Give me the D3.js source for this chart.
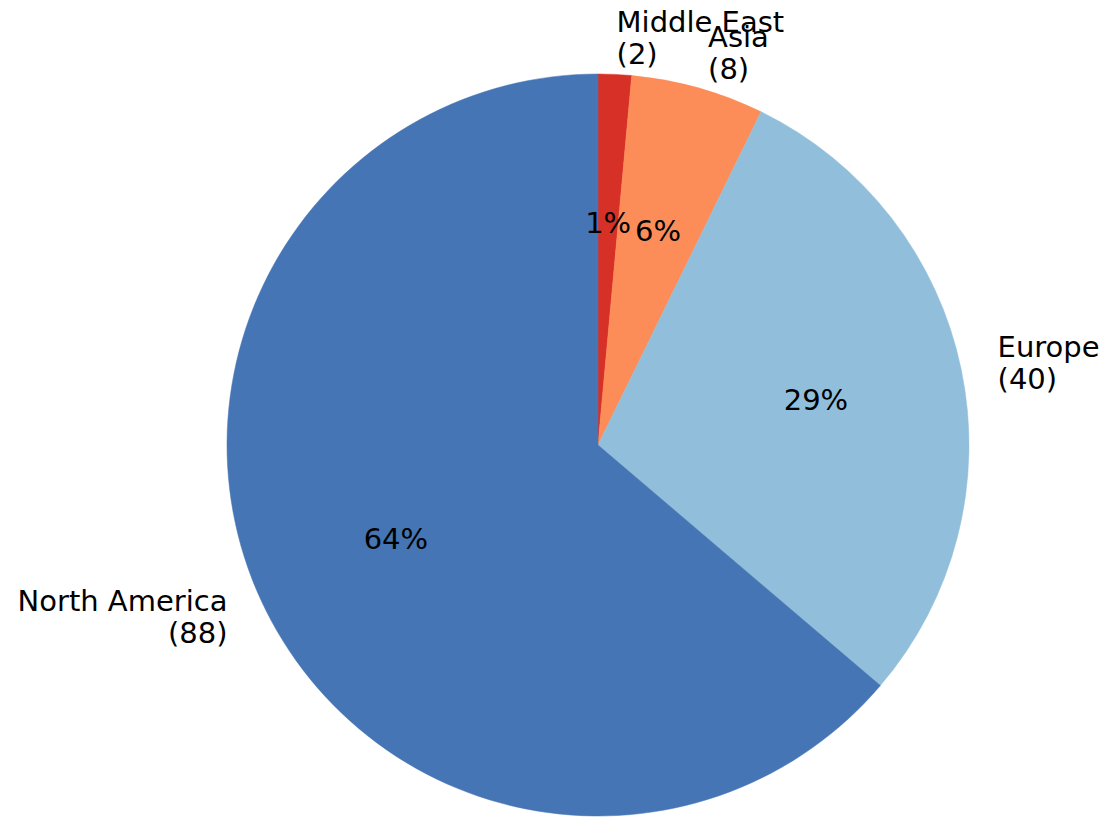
<!DOCTYPE html>
<html>
<head>
<meta charset="utf-8">
<script src="https://cdn.jsdelivr.net/npm/d3@7"></script>
<style>
  html, body { margin: 0; padding: 0; background: #ffffff; }
  svg { display: block; }
  text { font-family: "DejaVu Sans", sans-serif; fill: #000; }
</style>
</head>
<body>
<svg id="chart" width="1112" height="819"></svg>
<script>
const regions = ["Middle East", "Asia", "Europe", "North America"];
const counts = [2, 8, 40, 88];
const colors = ["#d73027", "#fc8d59", "#91bfdb", "#4575b4"];

const W = 1112, H = 819;
const cx = 598, cy = 445, R = 371;
const fontSize = 29, lineGap = 32;

const svg = d3.select("#chart");
const g = svg.append("g").attr("transform", `translate(${cx},${cy})`);

const data = regions.map((r, i) => ({ region: r, value: counts[i], color: colors[i] }));
const total = d3.sum(counts);

const pie = d3.pie().value(d => d.value).sort(null).startAngle(0).endAngle(2 * Math.PI);
const arcs = pie(data);
const arc = d3.arc().innerRadius(0).outerRadius(R);

g.selectAll("path.slice").data(arcs).join("path")
  .attr("class", "slice")
  .attr("d", arc)
  .attr("fill", d => d.data.color)
  .attr("stroke", d => d.data.color)
  .attr("stroke-width", 0.5);

function pos(d, k) {
  const a = (d.startAngle + d.endAngle) / 2;
  return [k * R * Math.sin(a), -k * R * Math.cos(a)];
}
const capOff = 0.365 * fontSize;

// outer labels
arcs.forEach(d => {
  const [x, y] = pos(d, 1.1);
  const anchor = x >= 0 ? "start" : "end";
  const lines = [d.data.region, `(${d.data.value})`];
  const t = g.append("text").attr("text-anchor", anchor).attr("font-size", fontSize);
  lines.forEach((ln, i) => {
    const yc = y + (i - (lines.length - 1) / 2) * lineGap;
    t.append("tspan").attr("x", x).attr("y", yc + capOff).text(ln);
  });
});

// percentage labels
arcs.forEach(d => {
  const [x, y] = pos(d, 0.6);
  const pct = d3.format(".0f")(d.data.value / total * 100) + "%";
  g.append("text").attr("x", x).attr("y", y + capOff)
    .attr("text-anchor", "middle").attr("font-size", fontSize).text(pct);
});
</script>
</body>
</html>
